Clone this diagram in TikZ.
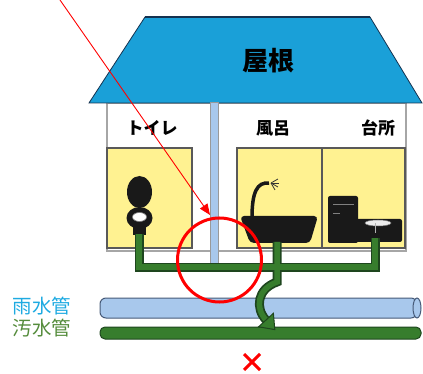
\documentclass[tikz,border=0pt]{standalone}
\usepackage{fontspec}
\newfontfamily\jpfont{Noto Sans CJK JP}
\usepackage{tikz}
\usetikzlibrary{positioning, calc}
\usetikzlibrary{arrows.meta}
\usepackage{xcolor}
\definecolor{roofblue}{RGB}{26,160,216}
\definecolor{roofedge}{RGB}{20,50,80}
\definecolor{roomyellow}{RGB}{255,242,145}
\definecolor{drain}{RGB}{55,125,45}
\definecolor{drainedge}{RGB}{30,70,30}
\definecolor{rainblue}{RGB}{168,200,236}
\definecolor{rainedge}{RGB}{70,90,120}
\definecolor{rainlabel}{RGB}{30,170,225}
\definecolor{sewerlabel}{RGB}{85,140,60}

\begin{document}
\begin{tikzpicture}[
        x=1pt, y=-1pt,
        roofshape/.style={fill=roofblue, draw=roofedge, line width=0.8pt},
        wall/.style={draw=gray!70, line width=1.5pt},
        room/.style={fill=roomyellow, draw=black!65, line width=1.2pt},
        roomlbl/.style={font=\jpfont\bfseries\fontsize{17}{17}\selectfont, inner sep=0pt},
        pipelbl/.style={font=\jpfont\fontsize{19.5}{19.5}\selectfont, inner sep=0pt},
        fixture/.style={fill=black!90},
        drainout/.style={draw=drainedge, line width=9pt},
        drainin/.style={draw=drain, line width=5.5pt},
        redmark/.style={draw=red, line width=3pt},
        pointer/.style={draw=red, line width=0.9pt, -{Triangle[length=11pt, width=9pt]}}
    ]
    \useasboundingbox (0,0) rectangle (423,374);

    % House body and roof
    \filldraw[wall, fill=white] (107,103) rectangle (406,251);
    \filldraw[roofshape] (145,17) -- (370,17) -- (422,103) -- (89,103) -- cycle;
    \draw[roofedge, line width=2pt] (145,17) -- (370,17);
    \node[font=\jpfont\bfseries\fontsize{26}{26}\selectfont] (roof) at (268,61) {屋根};

    % Rain downspout
    \filldraw[fill=rainblue, draw=gray!80, line width=1pt] (210,103) rectangle (218,265);

    % Rooms
    \filldraw[room] (107,148) rectangle (192,248);
    \filldraw[room] (237,148) rectangle (322,248);
    \filldraw[room] (322,148) rectangle (405,248);
    \node[roomlbl] (toilet)  at (152,128) {トイレ};
    \node[roomlbl] (bath)    at (273,128) {風呂};
    \node[roomlbl] (kitchen) at (378,128) {台所};

    % Toilet
    \fill[fixture] (139.5,192) ellipse [x radius=12.5, y radius=16];
    \fill[fixture] (139.5,218) ellipse [x radius=13, y radius=11];
    \fill[fixture] (133,222) rectangle (146,235);
    \filldraw[fill=white, draw=gray, line width=0.6pt] (139.5,217) ellipse [x radius=7, y radius=4.5];

    % Wash basin and faucet
    \fill[fixture, rounded corners=4] (240,216) -- (318,216) -- (310,243) -- (250,243) -- cycle;
    \draw[black!90, line width=3.5pt] (252,218) .. controls (252,192) and (257,182) .. (269,183);
    \foreach \a in {-30,0,30,60} {
        \draw[black!80, line width=0.8pt] (271,183) -- ++({8*cos(\a)},{8*sin(\a)});
    }

    % Kitchen sink
    \fill[fixture, rounded corners=2] (328,196) rectangle (358,243);
    \draw[gray, line width=0.6pt] (333,204) -- (354,204) (333,213) -- (340,213);
    \fill[fixture, rounded corners=2] (352,219) rectangle (402,242);
    \filldraw[fill=white!85!gray, draw=gray, line width=0.5pt] (378,223) ellipse [x radius=13, y radius=3];
    \draw[gray!60, line width=1pt] (375,223) -- (375,233);

    % Sewer and rain pipes
    \filldraw[fill=rainblue, draw=rainedge, line width=1pt, rounded corners=6] (100,298) rectangle (417,318);
    \filldraw[fill=rainblue, draw=rainedge, line width=1pt] (417,308) ellipse [x radius=4, y radius=10];
    \filldraw[fill=drain, draw=drainedge, line width=1pt, rounded corners=5] (100,327) rectangle (421,339);
    \node[pipelbl, text=rainlabel]  (rain)  at (42,306) {雨水管};
    \node[pipelbl, text=sewerlabel] (sewer) at (42,328) {汚水管};

    % Drain lines
    \coordinate (wc)   at (139,234);
    \coordinate (tub)  at (277,242);
    \coordinate (sink) at (375,238);
    \coordinate (tip)  at (266,320);
    \foreach \s in {drainout, drainin} {
        \draw[\s] (wc) |- (sink |- 0,267) -- (sink);
        \draw[\s] (tub) -- (277,282) .. controls (257,289) and (255,308) .. (tip);
    }
    \filldraw[fill=drain, draw=drainedge, line width=1pt] (258.6,326.8) -- (274.8,329.6) -- (273.4,313.3) -- cycle;

    % Misconnection marker
    \coordinate (src) at (60,0);
    \coordinate (hit) at (210,215);
    \draw[redmark] (219.5,260) circle [radius=42];
    \draw[pointer] (src) -- (hit);
    \draw[redmark] (244,354) -- (260,370) (260,354) -- (244,370);
\end{tikzpicture}
\end{document}
